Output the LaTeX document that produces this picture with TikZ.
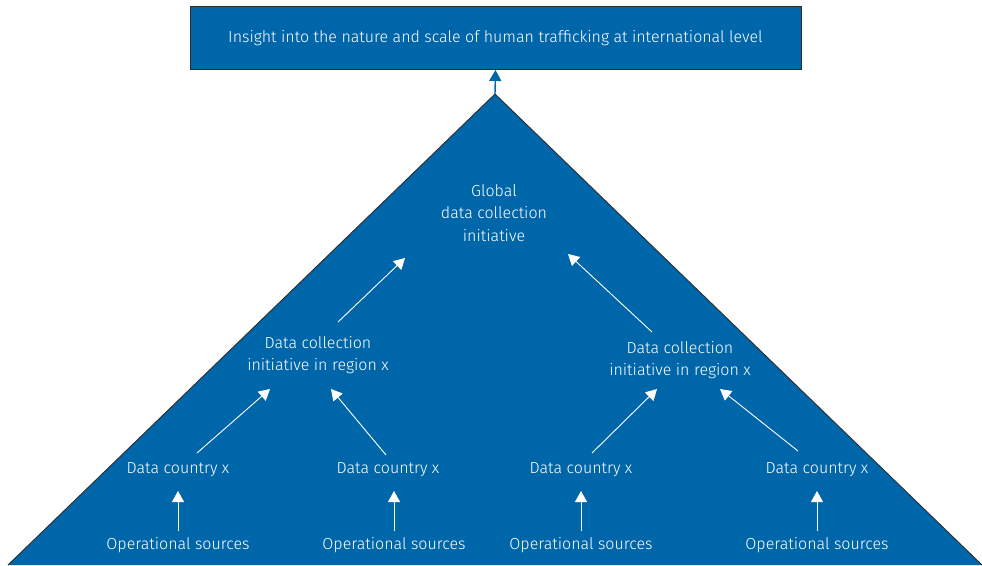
\documentclass[tikz,border=0pt]{standalone}
\usepackage{fontspec}
\setmainfont{Fira Sans}[UprightFont=* Light]
\usetikzlibrary{arrows.meta,calc}

\definecolor{rijkblue}{RGB}{0,102,170}
\definecolor{edgegray}{RGB}{45,45,45}

\begin{document}
\begin{tikzpicture}[
  x=1pt,
  y=-1pt,
  topblock/.style={
    rectangle,
    draw=edgegray,
    line width=0.9pt,
    fill=rijkblue,
    text=white,
    inner sep=0em,
    minimum width=611pt,
    minimum height=63pt,
    font=\fontsize{16}{19}\selectfont
  },
  label/.style={
    text=white,
    align=center,
    inner sep=0em,
    font=\fontsize{16}{22.5}\selectfont
  },
  whitearrow/.style={
    draw=white,
    line width=0.9pt,
    -{Triangle[length=11pt,width=12pt]}
  }]
  \useasboundingbox (0,0) rectangle (982,565);
  % pyramid
  \coordinate (apex) at (495,94);
  \fill[rijkblue] (8,565) -- (apex) -- (982,565) -- cycle;
  \draw[edgegray, line width=0.9pt] (8,565) -- (apex) -- (982,565);
  \node[topblock] (insight) at (495.5,38)
    {Insight into the nature and scale of human trafficking at international level};
  \draw[rijkblue, line width=1.4pt, -{Triangle[length=11pt,width=12pt]}] (apex) -- (insight.south);

  \node[label] (global) at (494,213) {Global\\data collection\\initiative};
  \node[label] (region1) at (318,355) {Data collection\\initiative in region x};
  \node[label] (region2) at (680,360) {Data collection\\initiative in region x};
  \node[label] (country1) at (178,470) {Data country x};
  \node[label] (country2) at (388,470) {Data country x};
  \node[label] (country3) at (581,470) {Data country x};
  \node[label] (country4) at (817,470) {Data country x};
  \node[label] (sources1) at (178,545) {Operational sources};
  \node[label] (sources2) at (394,545) {Operational sources};
  \node[label] (sources3) at (581,545) {Operational sources};
  \node[label] (sources4) at (817,545) {Operational sources};

  % arrows
  \draw[whitearrow] ($(region1)+(20,-33)$) -- ($(global)+(-89,45)$);
  \draw[whitearrow] ($(region2)+(-28,-28)$) -- ($(global)+(74,41)$);
  \draw[whitearrow] ($(country1)+(19,-17)$) -- ($(region1)+(-48,34)$);
  \draw[whitearrow] ($(country2)+(-2,-15)$) -- ($(region1)+(13,34)$);
  \draw[whitearrow] ($(country3)+(11,-17)$) -- ($(region2)+(-23,29)$);
  \draw[whitearrow] ($(country4)+(-19,-19)$) -- ($(region2)+(40,29)$);
  \foreach \i in {1,...,4}
    \draw[whitearrow] ($(sources\i)+(0,-14)$) -- ($(sources\i |- country\i)+(0,21)$);
\end{tikzpicture}
\end{document}
